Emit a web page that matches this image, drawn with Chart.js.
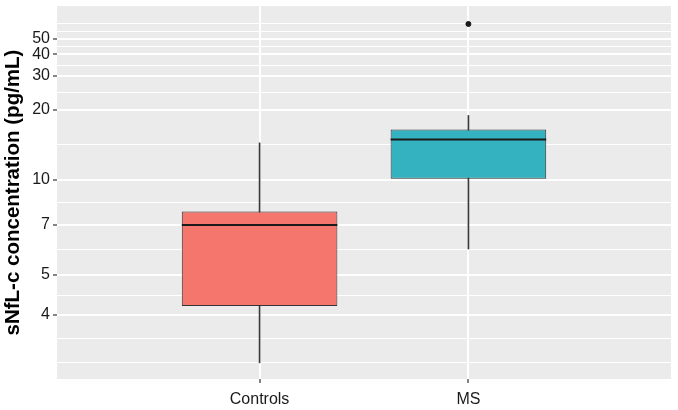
<!DOCTYPE html>
<html>
<head>
<meta charset="utf-8">
<script src="https://cdn.jsdelivr.net/npm/chart.js@4.4.1/dist/chart.umd.min.js"></script>
<style>
  html, body { margin: 0; padding: 0; background: #fff; }
  #wrap { width: 678px; height: 410px; }
</style>
</head>
<body>
<div id="wrap"><canvas id="boxChart" width="678" height="410"></canvas></div>
<script>
// Box statistics per group (pg/mL)
const groups = ['Controls', 'MS'];
const whiskerLow = [3.18, 5.90];
const q1 = [4.19, 10.08];
const medians = [6.97, 14.58];
const q3 = [7.72, 16.16];
const whiskerHigh = [14.09, 18.78];
const outlierGroup = [1];
const outlierValue = [62.6];

// Axis breaks (pg/mL)
const yBreaks = [4, 5, 7, 10, 20, 30, 40, 50];
const yMinorBreaks = [3.19, 3.56, 4.45, 5.87, 8.3, 13.8, 24.4, 34.5, 44.7, 55.6, 63.2];
const yLimits = [2.97, 83.6];

const boxColors = ['#F5766D', '#34B2BF'];

// the original axis is a log(log(x)) scale
const tf = v => Math.log(Math.log(v));

const boxData = groups.map((g, i) => ({ x: i, y: [tf(q1[i]), tf(q3[i])] }));
const whiskerData = groups.map((g, i) => ({ x: i, y: [tf(whiskerLow[i]), tf(whiskerHigh[i])] }));
const outlierData = outlierGroup.map((g, i) => ({ x: g, y: tf(outlierValue[i]) }));

const fontFamily = '"Liberation Sans", Arial, sans-serif';

// grey panel behind the grid, ggplot style
const panelBackground = {
    id: 'panelBackground',
    beforeDraw(chart) {
        const { ctx, chartArea: a } = chart;
        ctx.save();
        ctx.fillStyle = '#EBEBEB';
        ctx.fillRect(a.left, a.top, a.right - a.left, a.bottom - a.top);
        ctx.restore();
    }
};

// median line across each box
const medianLines = {
    id: 'medianLines',
    afterDatasetsDraw(chart) {
        const meta = chart.getDatasetMeta(1);
        const yScale = chart.scales.y;
        const ctx = chart.ctx;
        ctx.save();
        ctx.strokeStyle = '#1a1a1a';
        ctx.lineWidth = 2;
        meta.data.forEach((bar, i) => {
            const py = yScale.getPixelForValue(tf(medians[i]));
            ctx.beginPath();
            ctx.moveTo(bar.x - bar.width / 2, py);
            ctx.lineTo(bar.x + bar.width / 2, py);
            ctx.stroke();
        });
        ctx.restore();
    }
};

const isMajor = c => c.index < yBreaks.length;

new Chart(document.getElementById('boxChart'), {
    type: 'bar',
    data: {
        datasets: [
            {
                label: 'whiskers',
                data: whiskerData,
                backgroundColor: '#3a3a3a',
                barThickness: 1,
                grouped: false,
                order: 3
            },
            {
                label: 'boxes',
                data: boxData,
                backgroundColor: boxColors,
                borderColor: '#333333',
                borderWidth: 1,
                borderSkipped: false,
                categoryPercentage: 1,
                barPercentage: 0.745,
                grouped: false,
                order: 2
            },
            {
                type: 'scatter',
                label: 'outliers',
                data: outlierData,
                backgroundColor: '#1a1a1a',
                borderColor: '#1a1a1a',
                pointRadius: 2.5,
                order: 1
            }
        ]
    },
    options: {
        responsive: false,
        devicePixelRatio: 1,
        animation: false,
        events: [],
        layout: { padding: { top: 6, right: 7, left: 0, bottom: 0 } },
        plugins: {
            legend: { display: false },
            tooltip: { enabled: false }
        },
        scales: {
            x: {
                type: 'linear',
                min: -0.97,
                max: 1.97,
                offset: false,
                afterBuildTicks: s => { s.ticks = groups.map((g, i) => ({ value: i })); },
                afterFit: s => {
                    s.height = 31;
                    s.paddingLeft = 0;
                    s.paddingRight = 0;
                },
                ticks: {
                    callback: v => groups[v],
                    autoSkip: false,
                    maxRotation: 0,
                    padding: 7,
                    color: '#1a1a1a',
                    font: { family: fontFamily, size: 16 }
                },
                grid: {
                    offset: false,
                    color: '#ffffff',
                    lineWidth: 2,
                    tickColor: '#333333',
                    tickLength: 4,
                    tickWidth: 1.2
                },
                border: { display: false }
            },
            y: {
                type: 'linear',
                min: tf(yLimits[0]),
                max: tf(yLimits[1]),
                afterBuildTicks: s => {
                    s.ticks = yBreaks.concat(yMinorBreaks).map(v => ({ value: tf(v) }));
                },
                afterFit: s => {
                    s.width = 57;
                    s.paddingTop = 0;
                    s.paddingBottom = 0;
                },
                ticks: {
                    callback: (v, i) => (i < yBreaks.length ? String(yBreaks[i]) : ''),
                    autoSkip: false,
                    padding: 3,
                    color: '#1a1a1a',
                    font: { family: fontFamily, size: 16 }
                },
                grid: {
                    color: '#ffffff',
                    lineWidth: c => (isMajor(c) ? 2 : 1),
                    tickColor: c => (isMajor(c) ? '#333333' : 'rgba(0,0,0,0)'),
                    tickLength: 4,
                    tickWidth: 1.2
                },
                border: { display: false },
                title: {
                    display: true,
                    text: 'sNfL-c concentration (pg/mL)',
                    color: '#000000',
                    padding: { top: 3.5, bottom: 0 },
                    font: { family: fontFamily, size: 20.5, weight: 'bold', lineHeight: 1 }
                }
            }
        }
    },
    plugins: [panelBackground, medianLines]
});
</script>
</body>
</html>
